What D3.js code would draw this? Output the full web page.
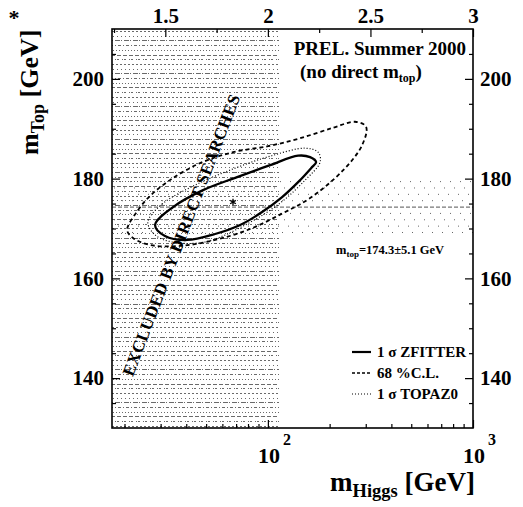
<!DOCTYPE html>
<html><head><meta charset="utf-8">
<script src="https://cdn.jsdelivr.net/npm/d3@7"></script>
<style>
body{margin:0;background:#fff}
svg{display:block}
text{font-family:"Liberation Serif","Times New Roman",serif;font-weight:bold;fill:#000}
</style>
</head><body>
<svg id="c" width="523" height="507"></svg>
<script>
// ---------- data ----------
const xDomain = [17.38, 1000];          // m_Higgs [GeV]
const yDomain = [130, 210];             // m_Top [GeV]
const yMajor = [140, 160, 180, 200];
const yMinor = [135, 145, 150, 155, 165, 170, 175, 185, 190, 195, 205];
const topMajor = [1.5, 2, 2.5, 3];      // log10(m_Higgs)
const topMajorLabels = ["1.5", "2", "2.5", "3"];
const topMinor = [1.25, 1.75, 2.25, 2.75];
const bottomMajor = [100, 1000];
const bottomMajorExp = ["2", "3"];
const bottomMinor = [20, 30, 40, 50, 60, 70, 80, 90, 200, 300, 400, 500, 600, 700, 800, 900];
const lepLimit = 113.3;
const mtopCentral = 174.3, mtopErr = 5.1;
const bestFit = [67.6, 175.3];

// 1 sigma ZFITTER contour
const zfitterH = [28.2, 34.5, 48.3, 70.8, 102.5, 140.4, 160.6, 171.8, 162.4, 142.0, 117.3, 93.7, 73.2, 55.3, 40.4, 31.5];
const zfitterT = [170.7, 174.3, 177.7, 180.3, 182.7, 184.6, 184.3, 183.3, 182.1, 179.5, 176.3, 173.3, 170.7, 168.9, 167.7, 168.5];
// 68% C.L. contour
const cl68H = [20.6, 23.3, 26.6, 33.3, 46.7, 67.6, 100.2, 143.6, 208, 266, 301, 288, 233, 160.6, 118.6, 81.9, 55.3, 37.3, 26.6, 22.0];
const cl68T = [169.7, 173.7, 176.5, 179.7, 183.1, 185.3, 186.5, 188.1, 190.2, 191.4, 190.4, 186.7, 181.7, 176.1, 173.1, 169.9, 167.7, 166.5, 166.7, 168.1];
// 1 sigma TOPAZ0 contour
const topazH = [26.0, 30.5, 44.2, 69.2, 102.5, 151.9, 175.8, 179.7, 151.9, 114.7, 77.4, 49.4, 34.1, 28.2];
const topazT = [171.3, 174.9, 178.7, 182.1, 184.5, 186.1, 185.3, 183.3, 179.7, 175.1, 170.7, 167.3, 167.3, 168.7];

const legendLabels = ["1 σ ZFITTER", "68 %C.L.", "1 σ TOPAZ0"];

// ---------- drawing ----------
const svg = d3.select("#c");
const L = 112, R = 473, T = 29, B = 428;
const x = d3.scaleLog().domain(xDomain).range([L, R]);
const y = d3.scaleLinear().domain(yDomain).range([B, T]);

const defs = svg.append("defs");
defs.append("clipPath").attr("id", "plot").append("rect")
  .attr("x", L).attr("y", T).attr("width", R - L).attr("height", B - T);
defs.append("clipPath").attr("id", "hclip").append("rect")
  .attr("x", L).attr("y", T).attr("width", x(lepLimit) - L).attr("height", B - T);

// excluded region texture
const hg = svg.append("g").attr("clip-path", "url(#hclip)");
const dashes = ["2,2", "1,3", "5,1,1,2", "3,2,1,2", "1,2", "4,2", "1,1,2,3"];
d3.range(T + 2, B, 4.7).forEach((yy, i) => {
  const yp = Math.round(yy) + 0.5;
  hg.append("line").attr("x1", L).attr("x2", x(lepLimit)).attr("y1", yp).attr("y2", yp)
    .attr("stroke", "#000").attr("stroke-width", 0.9).attr("stroke-opacity", 0.65)
    .attr("stroke-dasharray", dashes[i % dashes.length]).attr("stroke-dashoffset", (i * 3) % 7);
});

// m_top band
const bg = svg.append("g").attr("clip-path", "url(#plot)");
d3.range(-mtopErr, mtopErr + 0.01, mtopErr / 4).forEach((d, i) => {
  if (Math.abs(d) < 0.01) return;
  bg.append("line").attr("x1", L).attr("x2", R)
    .attr("y1", y(mtopCentral + d)).attr("y2", y(mtopCentral + d))
    .attr("stroke", "#666").attr("stroke-width", 1)
    .attr("stroke-dasharray", "1,9").attr("stroke-dashoffset", i * 4);
});
bg.append("line").attr("x1", L).attr("x2", R)
  .attr("y1", y(mtopCentral)).attr("y2", y(mtopCentral))
  .attr("stroke", "#777").attr("stroke-width", 1.3).attr("stroke-dasharray", "4,2");

// contours
const lineGen = d3.line().x(d => x(d[0])).y(d => y(d[1])).curve(d3.curveCatmullRomClosed.alpha(0.5));
const cg = svg.append("g").attr("clip-path", "url(#plot)").attr("fill", "none");
cg.append("path").datum(d3.zip(topazH, topazT)).attr("d", lineGen)
  .attr("stroke", "#000").attr("stroke-width", 1.2).attr("stroke-dasharray", "1,2");
cg.append("path").datum(d3.zip(cl68H, cl68T)).attr("d", lineGen)
  .attr("stroke", "#000").attr("stroke-width", 1.8).attr("stroke-dasharray", "4,3");
cg.append("path").datum(d3.zip(zfitterH, zfitterT)).attr("d", lineGen)
  .attr("stroke", "#000").attr("stroke-width", 2.3);

svg.append("path").attr("transform", `translate(${x(bestFit[0])},${y(bestFit[1])})`)
  .attr("d", d3.symbol(d3.symbolAsterisk, 30)()).attr("stroke", "#000").attr("stroke-width", 1.3).attr("fill", "none");

// rotated label
svg.append("text").attr("transform", "translate(181,235) rotate(-69)")
  .attr("text-anchor", "middle").attr("dy", "0.35em")
  .attr("textLength", 300).attr("lengthAdjust", "spacing")
  .style("font-size", "17px").text("EXCLUDED BY DIRECT SEARCHES");

// frame
svg.append("rect").attr("x", L).attr("y", T).attr("width", R - L).attr("height", B - T)
  .attr("fill", "none").attr("stroke", "#000").attr("stroke-width", 1.6);

// axes
const axStyle = g => { g.select(".domain").remove(); g.selectAll("line").attr("stroke", "#000").attr("stroke-width", 1.2); };
const yl = svg.append("g").attr("transform", `translate(${L},0)`)
  .call(d3.axisLeft(y).tickValues(yMajor).tickSize(-8).tickPadding(8).tickFormat(d3.format("d")));
yl.call(axStyle);
yl.selectAll("text").style("font-size", "21px").attr("font-family", null);
svg.append("g").attr("transform", `translate(${L},0)`)
  .call(d3.axisLeft(y).tickValues(yMinor).tickSize(-4).tickFormat("")).call(axStyle);
const yr = svg.append("g").attr("transform", `translate(${R},0)`)
  .call(d3.axisRight(y).tickValues(yMajor).tickSize(-8).tickPadding(7).tickFormat(d3.format("d")));
yr.call(axStyle);
yr.selectAll("text").style("font-size", "21px").attr("font-family", null);
svg.append("g").attr("transform", `translate(${R},0)`)
  .call(d3.axisRight(y).tickValues(yMinor).tickSize(-4).tickFormat("")).call(axStyle);

const xt = svg.append("g").attr("transform", `translate(0,${T})`)
  .call(d3.axisTop(x).tickValues(topMajor.map(v => Math.pow(10, v))).tickSize(-8).tickPadding(6)
    .tickFormat((d, i) => topMajorLabels[i]));
xt.call(axStyle);
xt.selectAll("text").style("font-size", "21px").attr("font-family", null);
svg.append("g").attr("transform", `translate(0,${T})`)
  .call(d3.axisTop(x).tickValues(topMinor.map(v => Math.pow(10, v))).tickSize(-4).tickFormat("")).call(axStyle);

svg.append("g").attr("transform", `translate(0,${B})`)
  .call(d3.axisBottom(x).tickValues(bottomMajor).tickSize(-8).tickFormat("")).call(axStyle);
svg.append("g").attr("transform", `translate(0,${B})`)
  .call(d3.axisBottom(x).tickValues(bottomMinor).tickSize(-4).tickFormat("")).call(axStyle);
bottomMajor.forEach((v, i) => {
  svg.append("text").attr("x", x(v) + 1).attr("y", 463).attr("text-anchor", "middle")
    .style("font-size", "22px").text("10");
  svg.append("text").attr("x", x(v) + 15).attr("y", 445).style("font-size", "16px").text(bottomMajorExp[i]);
});

// axis titles
const xtitle = svg.append("text").attr("x", 330).attr("y", 491).style("font-size", "27px");
xtitle.append("tspan").text("m");
xtitle.append("tspan").attr("dy", 6).style("font-size", "18.5px").text("Higgs");
xtitle.append("tspan").attr("dy", -6).text(" [GeV]");

const ytitle = svg.append("text").attr("transform", "translate(38,155) rotate(-90)").style("font-size", "26px");
ytitle.append("tspan").text("m");
ytitle.append("tspan").attr("dy", 6).style("font-size", "18px").text("Top");
ytitle.append("tspan").attr("dy", -6).text(" [GeV]");

svg.append("text").attr("x", 14).attr("y", 25).attr("text-anchor", "middle").style("font-size", "22px").text("*");

// annotations
svg.append("text").attr("x", 466).attr("y", 55).attr("text-anchor", "end").style("font-size", "19px").text("PREL. Summer 2000");
const nd = svg.append("text").attr("x", 300).attr("y", 78).style("font-size", "19px");
nd.append("tspan").text("(no direct m");
nd.append("tspan").attr("dy", 4).style("font-size", "12px").text("top");
nd.append("tspan").attr("dy", -4).text(")");

const mt = svg.append("text").attr("x", 336).attr("y", 254).style("font-size", "12.5px");
mt.append("tspan").text("m");
mt.append("tspan").attr("dy", 3).style("font-size", "9px").text("top");
mt.append("tspan").attr("dy", -3).text(`=${mtopCentral}±${mtopErr} GeV`);

// legend
const legStyles = [{w: 2.2, d: null}, {w: 1.6, d: "3,2"}, {w: 1.2, d: "1,2"}];
legendLabels.forEach((lab, i) => {
  const yy = 352 + i * 21;
  svg.append("line").attr("x1", 352).attr("x2", 371).attr("y1", yy).attr("y2", yy)
    .attr("stroke", "#000").attr("stroke-width", legStyles[i].w)
    .attr("stroke-dasharray", legStyles[i].d);
  svg.append("text").attr("x", 377).attr("y", yy + 5).style("font-size", "15px").text(lab);
});
</script>
</body></html>
